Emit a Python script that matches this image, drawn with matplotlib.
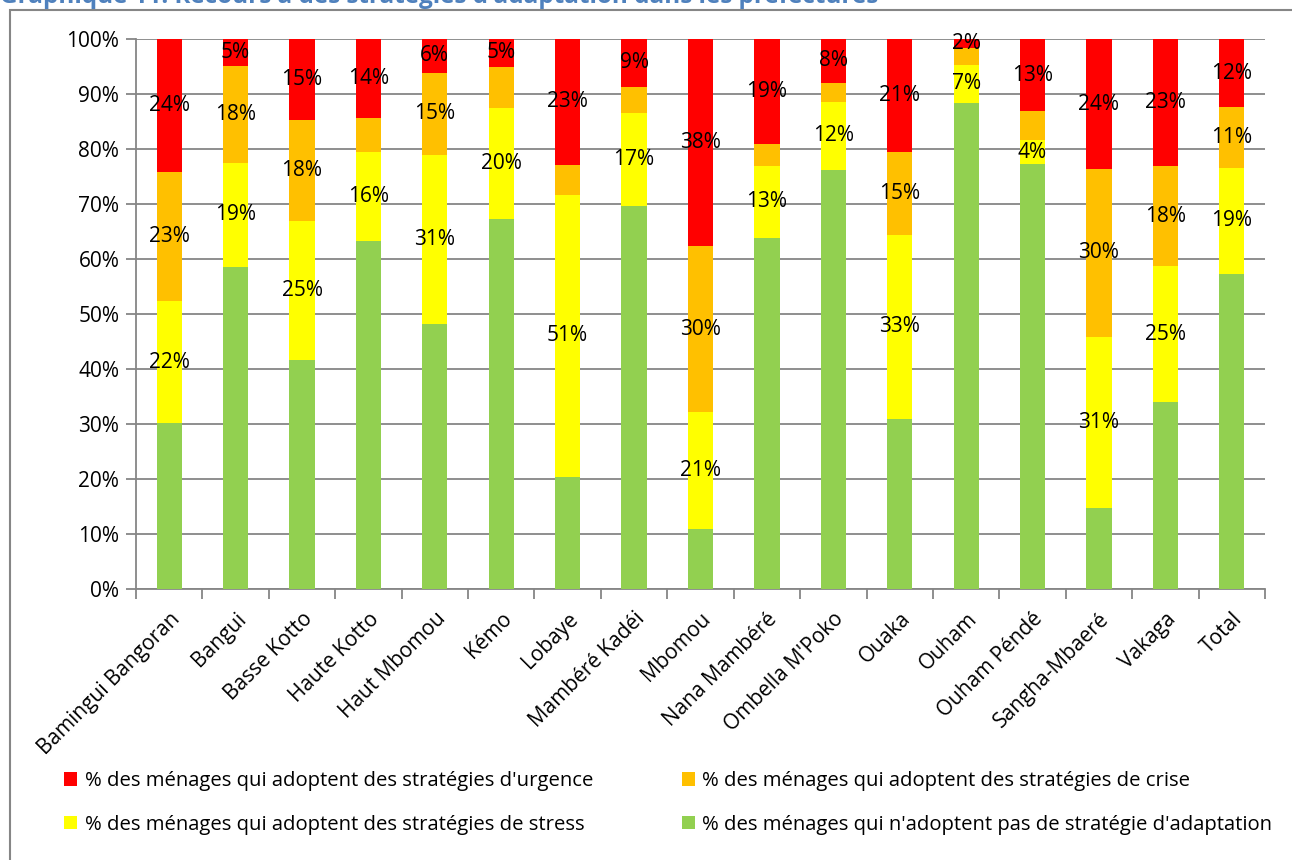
import numpy as np
import matplotlib.pyplot as plt
from matplotlib.patches import Rectangle

plt.rcParams['font.family'] = ['Open Sans', 'DejaVu Sans']

# ------------------------------------------------------------
# Data (% of households per coping strategy level)
# ------------------------------------------------------------
prefectures = ['Bamingui Bangoran', 'Bangui', 'Basse Kotto', 'Haute Kotto',
               'Haut Mbomou', 'Kémo', 'Lobaye', 'Mambéré Kadéi', 'Mbomou',
               'Nana Mambéré', "Ombella M'Poko", 'Ouaka', 'Ouham',
               'Ouham Péndé', 'Sangha-Mbaeré', 'Vakaga', 'Total']

aucune  = [30.1, 58.5, 41.6, 63.3, 48.2, 67.3, 20.4, 69.7, 10.9, 63.9, 76.2, 31.0, 88.4, 77.3, 14.8, 34.0, 57.3]
stress  = [22.3, 19.0, 25.4, 16.2, 30.7, 20.2, 51.3, 16.8, 21.2, 13.0, 12.4, 33.3, 6.9, 4.3, 31.1, 24.7, 19.3]
crise   = [23.4, 17.6, 18.2, 6.1, 15.0, 7.5, 5.4, 4.8, 30.3, 4.0, 3.4, 15.1, 3.1, 5.3, 30.4, 18.2, 11.0]
urgence = [24.2, 4.9, 14.8, 14.4, 6.1, 5.0, 22.9, 8.7, 37.6, 19.1, 8.0, 20.6, 1.6, 13.1, 23.7, 23.1, 12.4]

series_names = ["% des ménages qui n'adoptent pas de stratégie d'adaptation",
                '% des ménages qui adoptent des stratégies de stress',
                '% des ménages qui adoptent des stratégies de crise',
                "% des ménages qui adoptent des stratégies d'urgence"]
colors = ['#92D050', '#FFFF00', '#FFC000', '#FF0000']

FS = 15

# ------------------------------------------------------------
# Figure
# ------------------------------------------------------------
fig = plt.figure(figsize=(12.92, 8.60), dpi=100)
ax = fig.add_axes([136 / 1292, 1 - 589 / 860, (1265 - 136) / 1292, 550 / 860])

# outer chart frame
fig.patches.append(Rectangle((10 / 1292, -0.1), 1.2, 1.1 - 10 / 860,
                             transform=fig.transFigure, fill=False,
                             edgecolor='#868686', linewidth=1.5))

fig.text(0.0, 1 - 3 / 860,
         "Graphique 11: Recours à des stratégies d'adaptation dans les préfectures",
         color='#4F81BD', fontsize=17.5, fontweight='bold', va='baseline', ha='left')

x = np.arange(len(prefectures))
width = 0.38
bottom = np.zeros(len(prefectures))
handles = []
for vals, name, col in zip([aucune, stress, crise, urgence], series_names, colors):
    vals = np.array(vals)
    bars = ax.bar(x, vals, width, bottom=bottom, color=col, label=name, zorder=3)
    handles.append(bars)
    if col != '#92D050':
        if col == '#FFC000':
            labels = ['%d%%' % round(v) if v >= 10 else '' for v in vals]
        else:
            labels = ['%d%%' % round(v) for v in vals]
        ax.bar_label(bars, labels=labels, label_type='center', fontsize=FS,
                     color='black', zorder=4)
    bottom += vals

ax.set_xlim(-0.5, len(prefectures) - 0.5)
ax.set_ylim(0, 100)
ax.set_yticks(np.arange(0, 101, 10))
ax.set_yticklabels(['%d%%' % v for v in range(0, 101, 10)], fontsize=FS)
ax.set_xticks(x)
ax.set_xticklabels(prefectures, rotation=45, ha='right', rotation_mode='anchor',
                   fontsize=FS)
ax.tick_params(axis='x', length=0, pad=14)
ax.set_xticks(np.arange(-0.5, len(prefectures)), minor=True)
ax.tick_params(axis='x', which='minor', length=7, color='#868686', width=1.3)
ax.tick_params(axis='y', length=7, color='#868686', width=1.3, pad=5)

ax.grid(axis='y', color='#868686', linewidth=1.3, zorder=0)
for s in ['top', 'right']:
    ax.spines[s].set_visible(False)
for s in ['left', 'bottom']:
    ax.spines[s].set_color('#868686')
    ax.spines[s].set_linewidth(1.3)

# legend: row-major order urgence, crise / stress, aucune
leg_handles = [handles[3], handles[1], handles[2], handles[0]]
leg_labels = [series_names[3], series_names[1], series_names[2], series_names[0]]
fig.legend(leg_handles, leg_labels, ncol=2, loc='upper left',
           bbox_to_anchor=(46 / 1292, 1 - 753 / 860), frameon=False,
           fontsize=14.6, handlelength=0.65, handleheight=0.65,
           handletextpad=0.35, columnspacing=4.4, labelspacing=1.15)

plt.savefig('out.png', dpi=100)
plt.close()
